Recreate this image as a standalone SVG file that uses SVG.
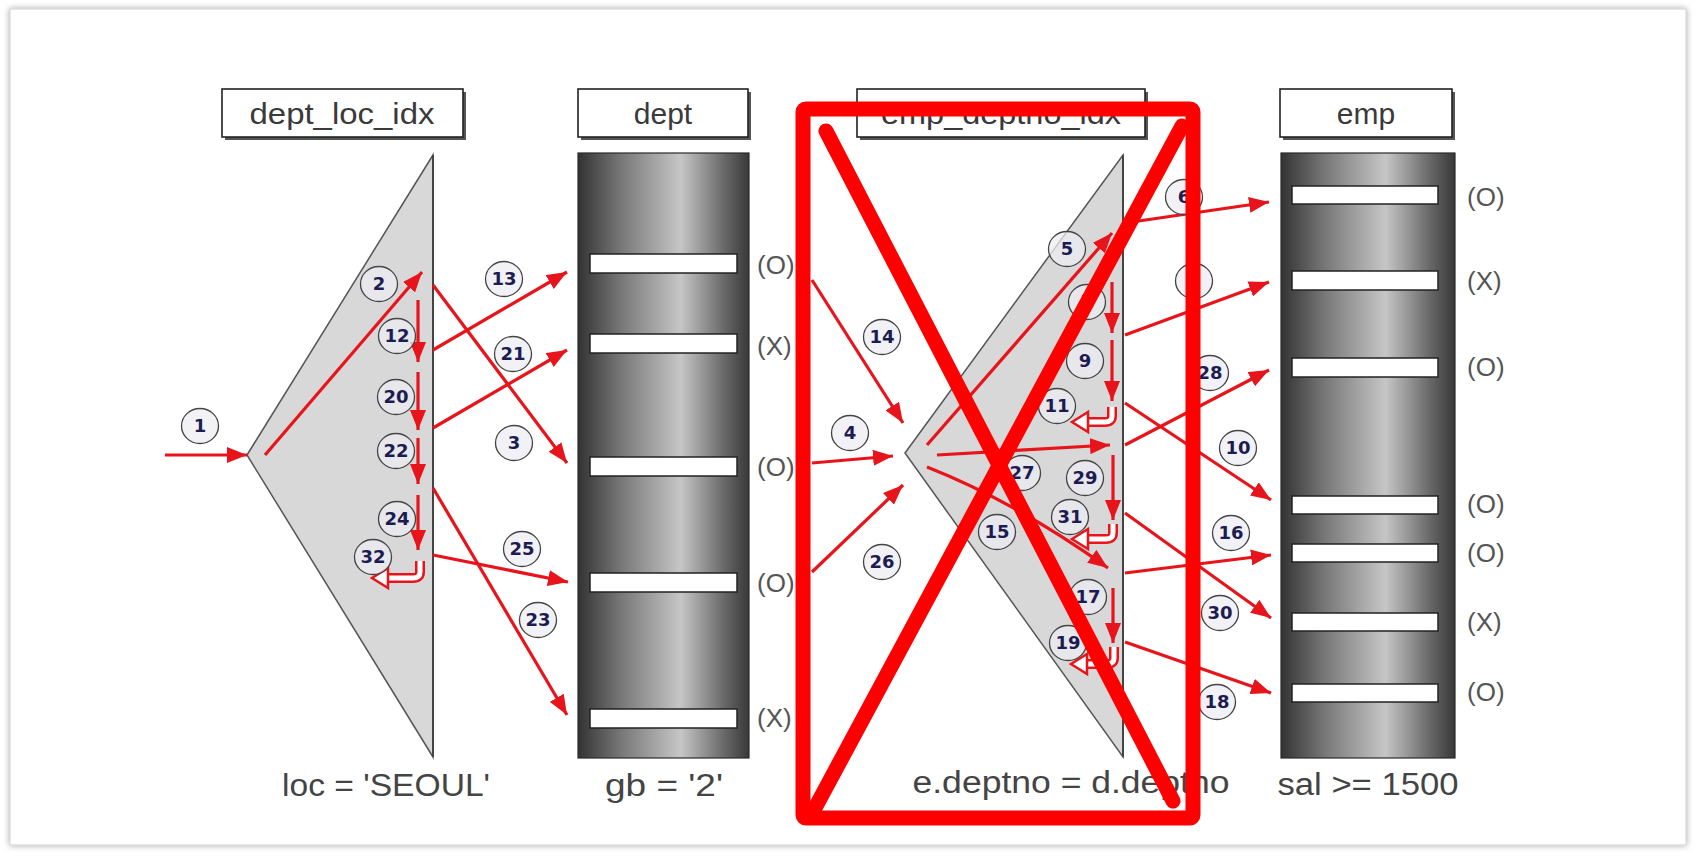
<svg xmlns="http://www.w3.org/2000/svg" width="1696" height="856" viewBox="0 0 1696 856">
<defs>
<style>
.lbl{fill:#fff;stroke:#222;stroke-width:1.6}
.lsh{fill:#555}
.lt{font-family:"Liberation Sans",Arial,sans-serif;font-size:30px;fill:#3a3a3a;text-anchor:middle}
.cap{font-family:"Liberation Sans",Arial,sans-serif;font-size:31px;fill:#444;text-anchor:middle}
.mk{font-family:"Liberation Sans",Arial,sans-serif;font-size:26px;fill:#555}
.tbl{fill:url(#tg);stroke:#2a2a2a;stroke-width:1.2}
.row{fill:#fff;stroke:#222;stroke-width:1.5}
.tri{fill:#d8d8d8;stroke:#555;stroke-width:1.5}
.ar{stroke:#e8141b;stroke-width:3.2;fill:none;marker-end:url(#ah)}
.nc{fill:#ececf3;fill-opacity:0.75;stroke:#444;stroke-width:1.3}
.nt{font-family:"DejaVu Sans",Verdana,sans-serif;font-weight:bold;font-size:18px;fill:#1c1c52;text-anchor:middle}
.ut{fill:none;stroke:#e8141b;stroke-width:10}
.ui{fill:none;stroke:#fff;stroke-width:5}
.uh{fill:#fff;stroke:#e8141b;stroke-width:2.5;stroke-linejoin:miter}
.x{fill:none;stroke:#ff0000;stroke-width:15;stroke-linecap:round;stroke-linejoin:round}
</style>
<linearGradient id="tg" x1="0" y1="0" x2="1" y2="0">
<stop offset="0" stop-color="#333"/>
<stop offset="0.25" stop-color="#777"/>
<stop offset="0.6" stop-color="#c6c6c6"/>
<stop offset="0.85" stop-color="#6a6a6a"/>
<stop offset="1" stop-color="#383838"/>
</linearGradient>
<marker id="ah" viewBox="0 0 20 16" refX="20" refY="8" markerWidth="20" markerHeight="16" markerUnits="userSpaceOnUse" orient="auto">
<path d="M0,0 L20,8 L0,16 Z" fill="#e8141b"/>
</marker>
<filter id="sh" x="-5%" y="-5%" width="110%" height="110%">
<feDropShadow dx="0" dy="0" stdDeviation="3" flood-color="#000" flood-opacity="0.35"/>
</filter>
</defs>
<rect x="0" y="0" width="1696" height="856" fill="#fff"/>
<rect x="10" y="9" width="1676" height="836" fill="#fff" stroke="#cfcfcf" stroke-width="1" filter="url(#sh)"/>

<g id="dept_loc_idx">
<rect class="lsh" x="225" y="92" width="241" height="48"/>
<rect class="lbl" x="222" y="89" width="241" height="48"/>
<text class="lt" x="342" y="124" textLength="185" lengthAdjust="spacingAndGlyphs">dept_loc_idx</text>
<polygon class="tri" points="247,455 433,155 433,757"/>
<line x1="433" y1="155" x2="433" y2="757" stroke="#444" stroke-width="2"/>
<text class="cap" x="386" y="796" textLength="208" lengthAdjust="spacingAndGlyphs">loc = 'SEOUL'</text>
</g>

<g id="dept">
<rect class="lsh" x="581" y="92" width="170" height="48"/>
<rect class="lbl" x="578" y="89" width="170" height="48"/>
<text class="lt" x="663" y="124">dept</text>
<rect class="tbl" x="578" y="153" width="171" height="605"/>
<rect class="row" x="590" y="254" width="147" height="19"/>
<rect class="row" x="590" y="334" width="147" height="19"/>
<rect class="row" x="590" y="457" width="147" height="19"/>
<rect class="row" x="590" y="573" width="147" height="19"/>
<rect class="row" x="590" y="709" width="147" height="19"/>
<text class="mk" x="757" y="274">(O)</text>
<text class="mk" x="757" y="355">(X)</text>
<text class="mk" x="757" y="476">(O)</text>
<text class="mk" x="757" y="592">(O)</text>
<text class="mk" x="757" y="727">(X)</text>
<text class="cap" x="664" y="796" textLength="118" lengthAdjust="spacingAndGlyphs">gb = '2'</text>
</g>

<g id="emp_deptno_idx">
<rect class="lsh" x="860" y="92" width="288" height="48"/>
<rect class="lbl" x="857" y="89" width="288" height="48"/>
<text class="lt" x="1001" y="124" textLength="240" lengthAdjust="spacingAndGlyphs">emp_deptno_idx</text>
<polygon class="tri" points="905,453 1123,155 1123,757"/>
<line x1="1123" y1="155" x2="1123" y2="757" stroke="#444" stroke-width="2"/>
<text class="cap" x="1071" y="793" textLength="317" lengthAdjust="spacingAndGlyphs">e.deptno = d.deptno</text>
</g>

<g id="emp">
<rect class="lsh" x="1283" y="92" width="172" height="48"/>
<rect class="lbl" x="1280" y="89" width="172" height="48"/>
<text class="lt" x="1366" y="124">emp</text>
<rect class="tbl" x="1281" y="153" width="174" height="605"/>
<rect class="row" x="1292" y="186" width="146" height="18"/>
<rect class="row" x="1292" y="271" width="146" height="19"/>
<rect class="row" x="1292" y="358" width="146" height="19"/>
<rect class="row" x="1292" y="496" width="146" height="18"/>
<rect class="row" x="1292" y="544" width="146" height="18"/>
<rect class="row" x="1292" y="613" width="146" height="18"/>
<rect class="row" x="1292" y="684" width="146" height="18"/>
<text class="mk" x="1467" y="206">(O)</text>
<text class="mk" x="1467" y="290">(X)</text>
<text class="mk" x="1467" y="376">(O)</text>
<text class="mk" x="1467" y="513">(O)</text>
<text class="mk" x="1467" y="562">(O)</text>
<text class="mk" x="1467" y="631">(X)</text>
<text class="mk" x="1467" y="701">(O)</text>
<text class="cap" x="1368" y="795" textLength="181" lengthAdjust="spacingAndGlyphs">sal &gt;= 1500</text>
</g>

<g id="connectors">
<path class="ar" d="M165 455 L247 455"/>
<path class="ar" d="M265 455 L422 272"/>
<path class="ar" d="M418 300 L418 362"/>
<path class="ar" d="M418 372 L418 430"/>
<path class="ar" d="M418 438 L418 484"/>
<path class="ar" d="M418 495 L418 550"/>
<path class="ar" d="M433 350 L567 272"/>
<path class="ar" d="M433 285 L567 463"/>
<path class="ar" d="M433 428 L567 350"/>
<path class="ar" d="M433 488 L567 715"/>
<path class="ar" d="M433 555 L568 582"/>
<path class="ar" d="M812 280 L903 423"/>
<path class="ar" d="M812 463 L893 456"/>
<path class="ar" d="M812 572 L903 485"/>
<path class="ar" d="M927 445 L1112 233"/>
<path class="ar" d="M937 455 L1110 445"/>
<path class="ar" d="M927 467 Q1016 502 1108 568"/>
<path class="ar" d="M1112 282 L1112 333"/>
<path class="ar" d="M1112 340 L1112 401"/>
<path class="ar" d="M1113 455 L1113 520"/>
<path class="ar" d="M1113 588 L1113 643"/>
<path class="ar" d="M1125 223 L1269 202"/>
<path class="ar" d="M1125 335 L1269 282"/>
<path class="ar" d="M1125 445 L1269 370"/>
<path class="ar" d="M1125 403 L1271 500"/>
<path class="ar" d="M1125 573 L1271 555"/>
<path class="ar" d="M1125 513 L1271 618"/>
<path class="ar" d="M1125 642 L1271 693"/>
<g id="uturns">
<path class="ut" d="M420 561 L420 572 Q420 578 413 578 L386 578"/>
<path class="ui" d="M420 561 L420 572 Q420 578 413 578 L388 578"/>
<polygon class="uh" points="372,578 388,568 388,588"/>
<path class="ut" d="M1112 407 L1112 416 Q1112 422 1105 422 L1086 422"/>
<path class="ui" d="M1112 407 L1112 416 Q1112 422 1105 422 L1088 422"/>
<polygon class="uh" points="1072,422 1088,412 1088,432"/>
<path class="ut" d="M1113 524 L1113 533 Q1113 539 1106 539 L1086 539"/>
<path class="ui" d="M1113 524 L1113 533 Q1113 539 1106 539 L1088 539"/>
<polygon class="uh" points="1072,539 1088,529 1088,549"/>
<path class="ut" d="M1114 647 L1114 658 Q1114 664 1107 664 L1085 664"/>
<path class="ui" d="M1114 647 L1114 658 Q1114 664 1107 664 L1087 664"/>
<polygon class="uh" points="1071,664 1087,654 1087,674"/>
</g>
</g>

<g id="steps">
<g><ellipse class="nc" cx="200" cy="426" rx="18.5" ry="17.5"/><text class="nt" x="200" y="432">1</text></g>
<g><ellipse class="nc" cx="379" cy="284" rx="18.5" ry="17.5"/><text class="nt" x="379" y="290">2</text></g>
<g><ellipse class="nc" cx="397" cy="336" rx="18.5" ry="17.5"/><text class="nt" x="397" y="342">12</text></g>
<g><ellipse class="nc" cx="504" cy="279" rx="18.5" ry="17.5"/><text class="nt" x="504" y="285">13</text></g>
<g><ellipse class="nc" cx="513" cy="354" rx="18.5" ry="17.5"/><text class="nt" x="513" y="360">21</text></g>
<g><ellipse class="nc" cx="396" cy="397" rx="18.5" ry="17.5"/><text class="nt" x="396" y="403">20</text></g>
<g><ellipse class="nc" cx="396" cy="451" rx="18.5" ry="17.5"/><text class="nt" x="396" y="457">22</text></g>
<g><ellipse class="nc" cx="514" cy="443" rx="18.5" ry="17.5"/><text class="nt" x="514" y="449">3</text></g>
<g><ellipse class="nc" cx="397" cy="519" rx="18.5" ry="17.5"/><text class="nt" x="397" y="525">24</text></g>
<g><ellipse class="nc" cx="373" cy="557" rx="18.5" ry="17.5"/><text class="nt" x="373" y="563">32</text></g>
<g><ellipse class="nc" cx="522" cy="549" rx="18.5" ry="17.5"/><text class="nt" x="522" y="555">25</text></g>
<g><ellipse class="nc" cx="538" cy="620" rx="18.5" ry="17.5"/><text class="nt" x="538" y="626">23</text></g>
<g><ellipse class="nc" cx="882" cy="337" rx="18.5" ry="17.5"/><text class="nt" x="882" y="343">14</text></g>
<g><ellipse class="nc" cx="850" cy="433" rx="18.5" ry="17.5"/><text class="nt" x="850" y="439">4</text></g>
<g><ellipse class="nc" cx="882" cy="562" rx="18.5" ry="17.5"/><text class="nt" x="882" y="568">26</text></g>
<g><ellipse class="nc" cx="1067" cy="249" rx="18.5" ry="17.5"/><text class="nt" x="1067" y="255">5</text></g>
<g><ellipse class="nc" cx="1087" cy="302" rx="18.5" ry="17.5"/><text class="nt" x="1087" y="308">7</text></g>
<g><ellipse class="nc" cx="1085" cy="361" rx="18.5" ry="17.5"/><text class="nt" x="1085" y="367">9</text></g>
<g><ellipse class="nc" cx="1057" cy="406" rx="18.5" ry="17.5"/><text class="nt" x="1057" y="412">11</text></g>
<g><ellipse class="nc" cx="1022" cy="473" rx="18.5" ry="17.5"/><text class="nt" x="1022" y="479">27</text></g>
<g><ellipse class="nc" cx="1085" cy="478" rx="18.5" ry="17.5"/><text class="nt" x="1085" y="484">29</text></g>
<g><ellipse class="nc" cx="1070" cy="517" rx="18.5" ry="17.5"/><text class="nt" x="1070" y="523">31</text></g>
<g><ellipse class="nc" cx="997" cy="532" rx="18.5" ry="17.5"/><text class="nt" x="997" y="538">15</text></g>
<g><ellipse class="nc" cx="1088" cy="597" rx="18.5" ry="17.5"/><text class="nt" x="1088" y="603">17</text></g>
<g><ellipse class="nc" cx="1068" cy="643" rx="18.5" ry="17.5"/><text class="nt" x="1068" y="649">19</text></g>
<g><ellipse class="nc" cx="1184" cy="197" rx="18.5" ry="17.5"/><text class="nt" x="1184" y="203">6</text></g>
<g><ellipse class="nc" cx="1194" cy="281" rx="18.5" ry="17.5"/><text class="nt" x="1194" y="287">8</text></g>
<g><ellipse class="nc" cx="1210" cy="373" rx="18.5" ry="17.5"/><text class="nt" x="1210" y="379">28</text></g>
<g><ellipse class="nc" cx="1238" cy="448" rx="18.5" ry="17.5"/><text class="nt" x="1238" y="454">10</text></g>
<g><ellipse class="nc" cx="1231" cy="533" rx="18.5" ry="17.5"/><text class="nt" x="1231" y="539">16</text></g>
<g><ellipse class="nc" cx="1220" cy="613" rx="18.5" ry="17.5"/><text class="nt" x="1220" y="619">30</text></g>
<g><ellipse class="nc" cx="1217" cy="702" rx="18.5" ry="17.5"/><text class="nt" x="1217" y="708">18</text></g>
</g>

<g id="cross-out">
<rect class="x" x="803" y="109" width="390" height="709" rx="3"/>
<path class="x" d="M826 131 L1173 801"/>
<path class="x" d="M815 808 L1182 126"/>
</g>
</svg>
